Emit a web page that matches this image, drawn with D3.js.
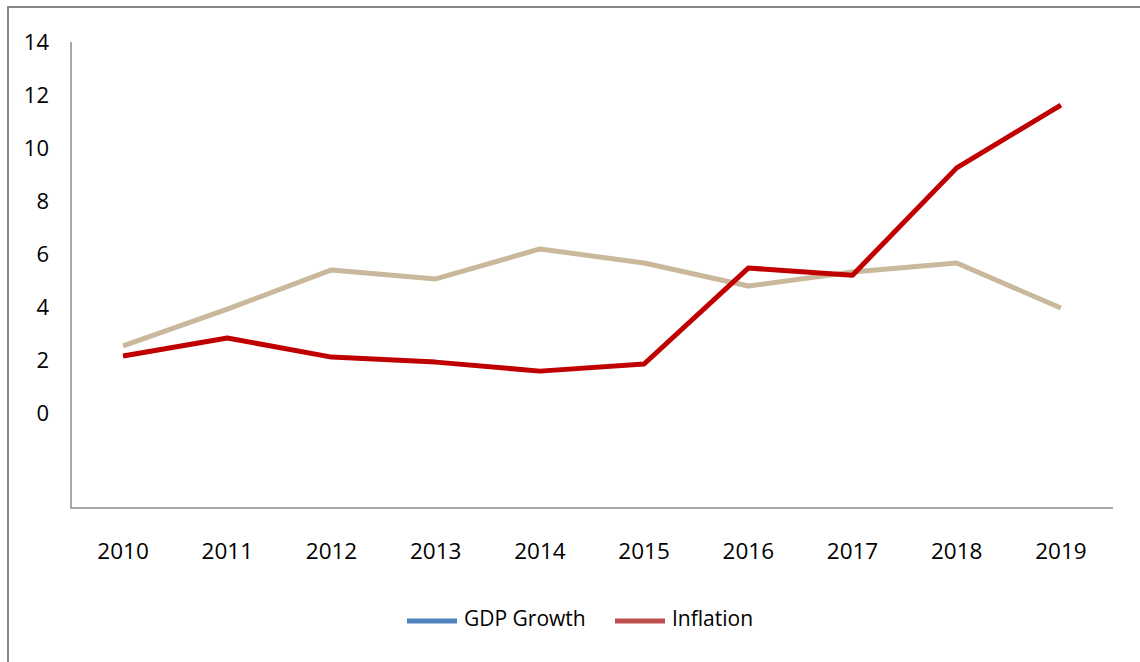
<!DOCTYPE html>
<html>
<head>
<meta charset="utf-8">
<script src="https://cdn.jsdelivr.net/npm/d3@7"></script>
<style>
  body { margin: 0; background: #fff; }
  svg text { font-family: "Open Sans", "Noto Sans", sans-serif; fill: #000; }
</style>
</head>
<body>
<div id="plot"></div>
<script>
// chart data
const years = ["2010", "2011", "2012", "2013", "2014", "2015", "2016", "2017", "2018", "2019"];
const gdpGrowth = [2.53, 3.92, 5.40, 5.06, 6.19, 5.66, 4.79, 5.32, 5.66, 3.96];
const inflation = [2.15, 2.83, 2.11, 1.92, 1.58, 1.85, 5.47, 5.20, 9.25, 11.62];
const yTicks = [0, 2, 4, 6, 8, 10, 12, 14];
const legendNames = ["GDP Growth", "Inflation"];

const W = 1140, H = 662;
const plotLeft = 71, plotRight = 1113, plotBottom = 508;

const svg = d3.select("div#plot")
  .append("svg")
  .attr("width", W)
  .attr("height", H);

// outer frame (only top and left edges fall inside the picture)
svg.append("path")
  .attr("d", `M8,${H} L8,7 L${W},7`)
  .attr("fill", "none")
  .attr("stroke", "#878787")
  .attr("stroke-width", 2);

const x = d3.scaleBand().domain(years).range([plotLeft, plotRight]);
const y = d3.scaleLinear().domain([0, 14]).range([413, 42]);

// y labels
svg.append("g")
  .attr("transform", "translate(49,0)")
  .call(d3.axisLeft(y).tickValues(yTicks).tickSize(0).tickPadding(0))
  .call(g => g.select(".domain").remove())
  .selectAll("text")
  .attr("font-size", 22)
  .attr("font-family", null);

// x labels
svg.append("g")
  .attr("transform", `translate(0,${plotBottom})`)
  .call(d3.axisBottom(x).tickSize(0).tickPadding(35))
  .call(g => g.select(".domain").remove())
  .selectAll("text")
  .attr("font-size", 22.5)
  .attr("font-family", null);

// axis lines
svg.append("path")
  .attr("d", `M${plotLeft},${y(14)} L${plotLeft},${plotBottom} L${plotRight},${plotBottom}`)
  .attr("fill", "none")
  .attr("stroke", "#8a8a8a")
  .attr("stroke-width", 1.5);

const line = d3.line()
  .x((d, i) => x(years[i]) + x.bandwidth() / 2)
  .y(d => y(d));

svg.append("path")
  .datum(gdpGrowth)
  .attr("fill", "none")
  .attr("stroke", "#C9B89C")
  .attr("stroke-width", 5)
  .attr("stroke-linejoin", "round")
  .attr("d", line);

svg.append("path")
  .datum(inflation)
  .attr("fill", "none")
  .attr("stroke", "#C00000")
  .attr("stroke-width", 5)
  .attr("stroke-linejoin", "round")
  .attr("d", line);

// legend
const legendColors = ["#4F81BD", "#C0504D"];
const legendX = [407, 615];
const legend = svg.append("g");
legendNames.forEach((name, i) => {
  legend.append("line")
    .attr("x1", legendX[i]).attr("x2", legendX[i] + 50)
    .attr("y1", 621).attr("y2", 621)
    .attr("stroke", legendColors[i])
    .attr("stroke-width", 5);
  legend.append("text")
    .attr("x", legendX[i] + 57)
    .attr("y", 619)
    .attr("dy", "0.35em")
    .attr("font-size", 21)
    .text(name);
});
</script>
</body>
</html>
